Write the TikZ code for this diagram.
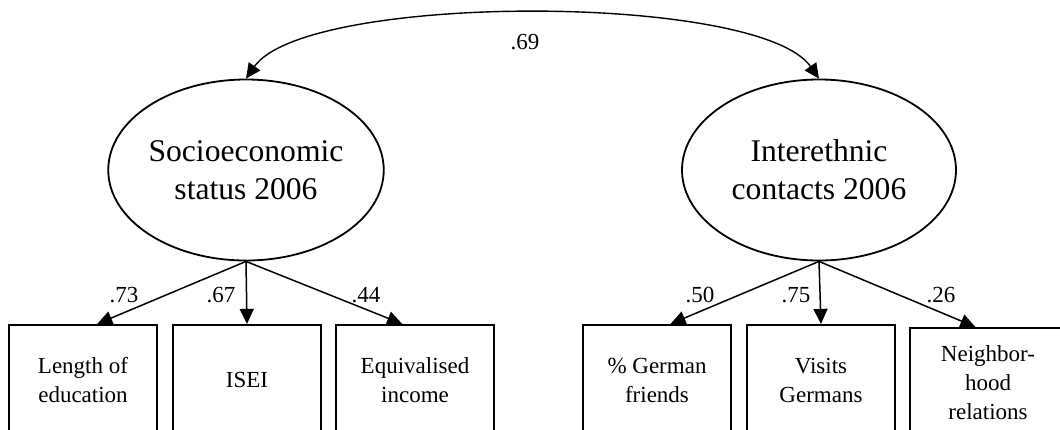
\documentclass[tikz,border=0pt]{standalone}
\usepackage{fontspec}
\setmainfont{Liberation Serif}
\usetikzlibrary{shapes.geometric,arrows.meta,calc}
\tikzset{
  latent/.style={ellipse,draw,line width=1.8pt,minimum width=274pt,minimum height=181pt,inner sep=0pt,align=center,font=\fontsize{31.6}{38}\selectfont},
  manifest/.style={rectangle,draw,line width=2.2pt,minimum width=148pt,minimum height=110pt,inner sep=0pt,align=center,font=\fontsize{23}{29}\selectfont},
  arr/.style={line width=1.5pt,-{Triangle[length=15pt,width=14pt]}},
  coef/.style={font=\fontsize{23}{27}\selectfont,inner sep=0pt}
}
\begin{document}
\begin{tikzpicture}[x=1pt,y=-1pt]
\useasboundingbox (0,0) rectangle (1060,429);
\clip (0,0) rectangle (1060,429);
\node[latent] (ses) at (246,170) {Socioeconomic\\status 2006};
\node[latent] (iec) at (819,170) {Interethnic\\contacts 2006};
\node[manifest] (b1) at (83,380) {Length of\\education};
\node[manifest] (b2) at (247,380) {ISEI};
\node[manifest,minimum width=158pt] (b3) at (415,380) {Equivalised\\income};
\node[manifest] (b4) at (657,380) {\% German\\friends};
\node[manifest] (b5) at (821,380) {Visits\\Germans};
\node[manifest,minimum width=156pt] (b6) at (988,383) {Neighbor-\\hood\\relations};
\draw[line width=1.4pt,{Triangle[length=15pt,width=14pt]}-{Triangle[length=15pt,width=14pt]}]
  (ses.north) .. controls +(60,-86) and +(-60,-86) .. (iec.north);
\node[coef] (c0) at (525,42) {.69};
\draw[arr] (ses.south) -- ($(b1.north west)!0.595!(b1.north east)$);
\draw[arr] (ses.south) -- (b2.north);
\draw[arr] (ses.south) -- ($(b3.north west)!0.42!(b3.north east)$);
\draw[arr] (iec.south) -- ($(b4.north west)!0.59!(b4.north east)$);
\draw[arr] (iec.south) -- (b5.north);
\draw[arr] (iec.south) -- ($(b6.north west)!0.42!(b6.north east)$);
\node[coef] (c1) at (124,295) {.73};
\node[coef] (c2) at (221,295) {.67};
\node[coef] (c3) at (366,295) {.44};
\node[coef] (c4) at (700,295) {.50};
\node[coef] (c5) at (796,295) {.75};
\node[coef] (c6) at (941,295) {.26};
\end{tikzpicture}
\end{document}
